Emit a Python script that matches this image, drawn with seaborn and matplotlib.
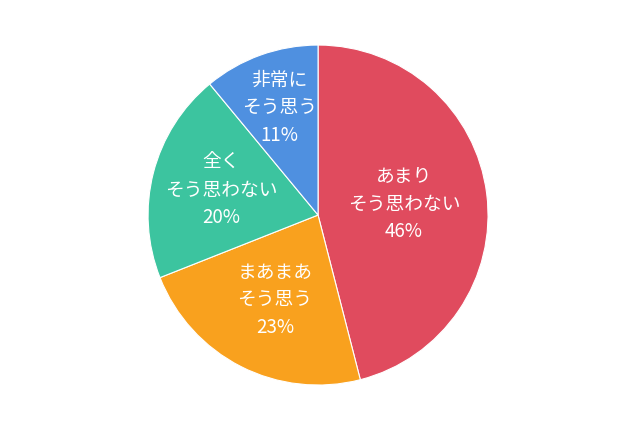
import matplotlib
matplotlib.use("Agg")
import numpy as np
import matplotlib.pyplot as plt
import seaborn as sns

# データ
labels = ["あまり\nそう思わない", "まあまあ\nそう思う", "全く\nそう思わない", "非常に\nそう思う"]
values = [46, 23, 20, 11]
colors = ["#E04B5E", "#F9A11E", "#3CC49F", "#4F90E0"]
label_radius = [0.51, 0.56, 0.59, 0.67]

sns.set_theme(style="white")
plt.rcParams['font.family'] = ['Noto Sans CJK JP', 'DejaVu Sans']

fig = plt.figure(figsize=(6.4, 4.26), dpi=100)
ax = fig.add_axes([0, 0, 1, 1])

wedges, _ = ax.pie(values, colors=colors, startangle=90, counterclock=False,
                   radius=1.0, wedgeprops=dict(edgecolor="white", linewidth=0.8))

for w, lab, v, r in zip(wedges, labels, values, label_radius):
    ang = np.deg2rad((w.theta1 + w.theta2) / 2)
    ax.text(r * np.cos(ang), r * np.sin(ang), f"{lab}\n{v}%",
            ha="center", va="center", color="white", fontsize=13.5,
            linespacing=1.4, fontweight="normal")

ax.set_xlim(-1.871, 1.894)
ax.set_ylim(-1.241, 1.265)
ax.set_aspect("auto")
ax.axis("off")

plt.savefig("out.png", dpi=100, facecolor="white")
